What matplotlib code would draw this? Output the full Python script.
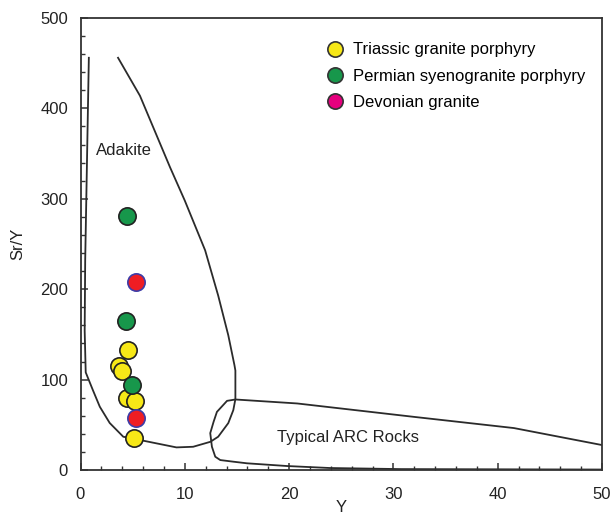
import numpy as np
import matplotlib.pyplot as plt
from matplotlib.lines import Line2D
from matplotlib.ticker import MultipleLocator

plt.rcParams['font.family'] = ['Liberation Sans', 'DejaVu Sans']

# samples (Y, Sr/Y)
tri_y = [4.55, 3.70, 4.02, 4.42, 5.22, 5.12]
tri_sry = [133, 115, 110, 80, 76.5, 35]
perm_y = [4.42, 4.32, 4.90]
perm_sry = [281, 165, 94]
dev_y = [5.32, 5.32]
dev_sry = [208, 58]

# adakite field outline
adk_x = [0.80, 0.61, 0.45, 0.40, 0.50, 1.2, 1.85, 2.8, 4.1, 6.2, 9.2, 10.8,
         12.45, 13.2, 14.17, 14.65, 14.85, 14.85, 14.76, 14.17, 13.2, 11.95,
         10.0, 8.58, 5.7, 3.6]
adk_yv = [456, 334, 232, 154, 108, 88, 70, 52, 36.8, 32, 25, 25.7,
          31.2, 36.8, 51.9, 66.2, 78.4, 110, 116, 149, 193, 243,
          298, 335, 414, 456]

# typical arc field outline
arc_x = [50.0, 41.55, 31.95, 20.78, 14.85, 14.05, 13.08, 12.76, 12.44, 12.6,
         12.92, 13.4, 14.65, 15.97, 19.8, 23.9, 30.7, 50.0]
arc_yv = [27.6, 46.4, 58.8, 73.6, 78.0, 76.5, 64.3, 53.3, 40.8, 25.7,
          14.7, 11.0, 9.2, 7.4, 4.4, 2.2, 1.0, 0.5]

labels = ['Triassic granite porphyry', 'Permian syenogranite porphyry', 'Devonian granite']

fig = plt.figure(figsize=(6.11, 5.17), dpi=100)
ax = fig.add_axes([80.5/611, 47/517, 521.5/611, 452/517])

line_c = '#2b2b2b'
ax.plot(adk_x, adk_yv, color=line_c, lw=1.3)
ax.plot(arc_x, arc_yv, color=line_c, lw=1.3)

ms = 155
ax.scatter(tri_y, tri_sry, s=ms, c='#f7e817', edgecolors='#222222', linewidths=1.2, zorder=3)
ax.scatter(perm_y, perm_sry, s=ms, c='#17974b', edgecolors='#222222', linewidths=1.2, zorder=4)
ax.scatter(dev_y, dev_sry, s=ms, c='#ee1d23', edgecolors='#3c3ca8', linewidths=1.2, zorder=5)

ax.text(1.5, 353, 'Adakite', fontsize=12, color='#222222', va='center')
ax.text(18.85, 36.5, 'Typical ARC Rocks', fontsize=12, color='#222222', va='center')

handles = [
    Line2D([], [], ls='', marker='o', ms=11, mfc='#f7e817', mec='#333333', mew=1.2),
    Line2D([], [], ls='', marker='o', ms=11, mfc='#17974b', mec='#333333', mew=1.2),
    Line2D([], [], ls='', marker='o', ms=11, mfc='#e6007e', mec='#333333', mew=1.2),
]
ax.legend(handles, labels, loc='upper left', bbox_to_anchor=(0.4725, 0.946),
          frameon=False, fontsize=12, borderpad=0, borderaxespad=0,
          handlelength=1.0, handletextpad=0.58, labelspacing=0.68)

ax.set_xlim(0, 50)
ax.set_ylim(0, 500)
ax.xaxis.set_major_locator(MultipleLocator(10))
ax.xaxis.set_minor_locator(MultipleLocator(2))
ax.yaxis.set_major_locator(MultipleLocator(100))
ax.yaxis.set_minor_locator(MultipleLocator(20))
ax.tick_params(which='both', direction='in', color='#333333', labelsize=12,
               labelcolor='#222222')
ax.tick_params(which='major', length=5, width=1.1)
ax.tick_params(which='minor', length=3, width=1.0)
ax.tick_params(axis='x', pad=12)
ax.tick_params(axis='y', pad=9)
for sp in ax.spines.values():
    sp.set_color('#333333')
    sp.set_linewidth(1.3)

ax.set_xlabel('Y', fontsize=12, color='#222222', labelpad=-1)
ax.set_ylabel('Sr/Y', fontsize=12, color='#222222', labelpad=11)

fig.savefig('out.png', dpi=100)
